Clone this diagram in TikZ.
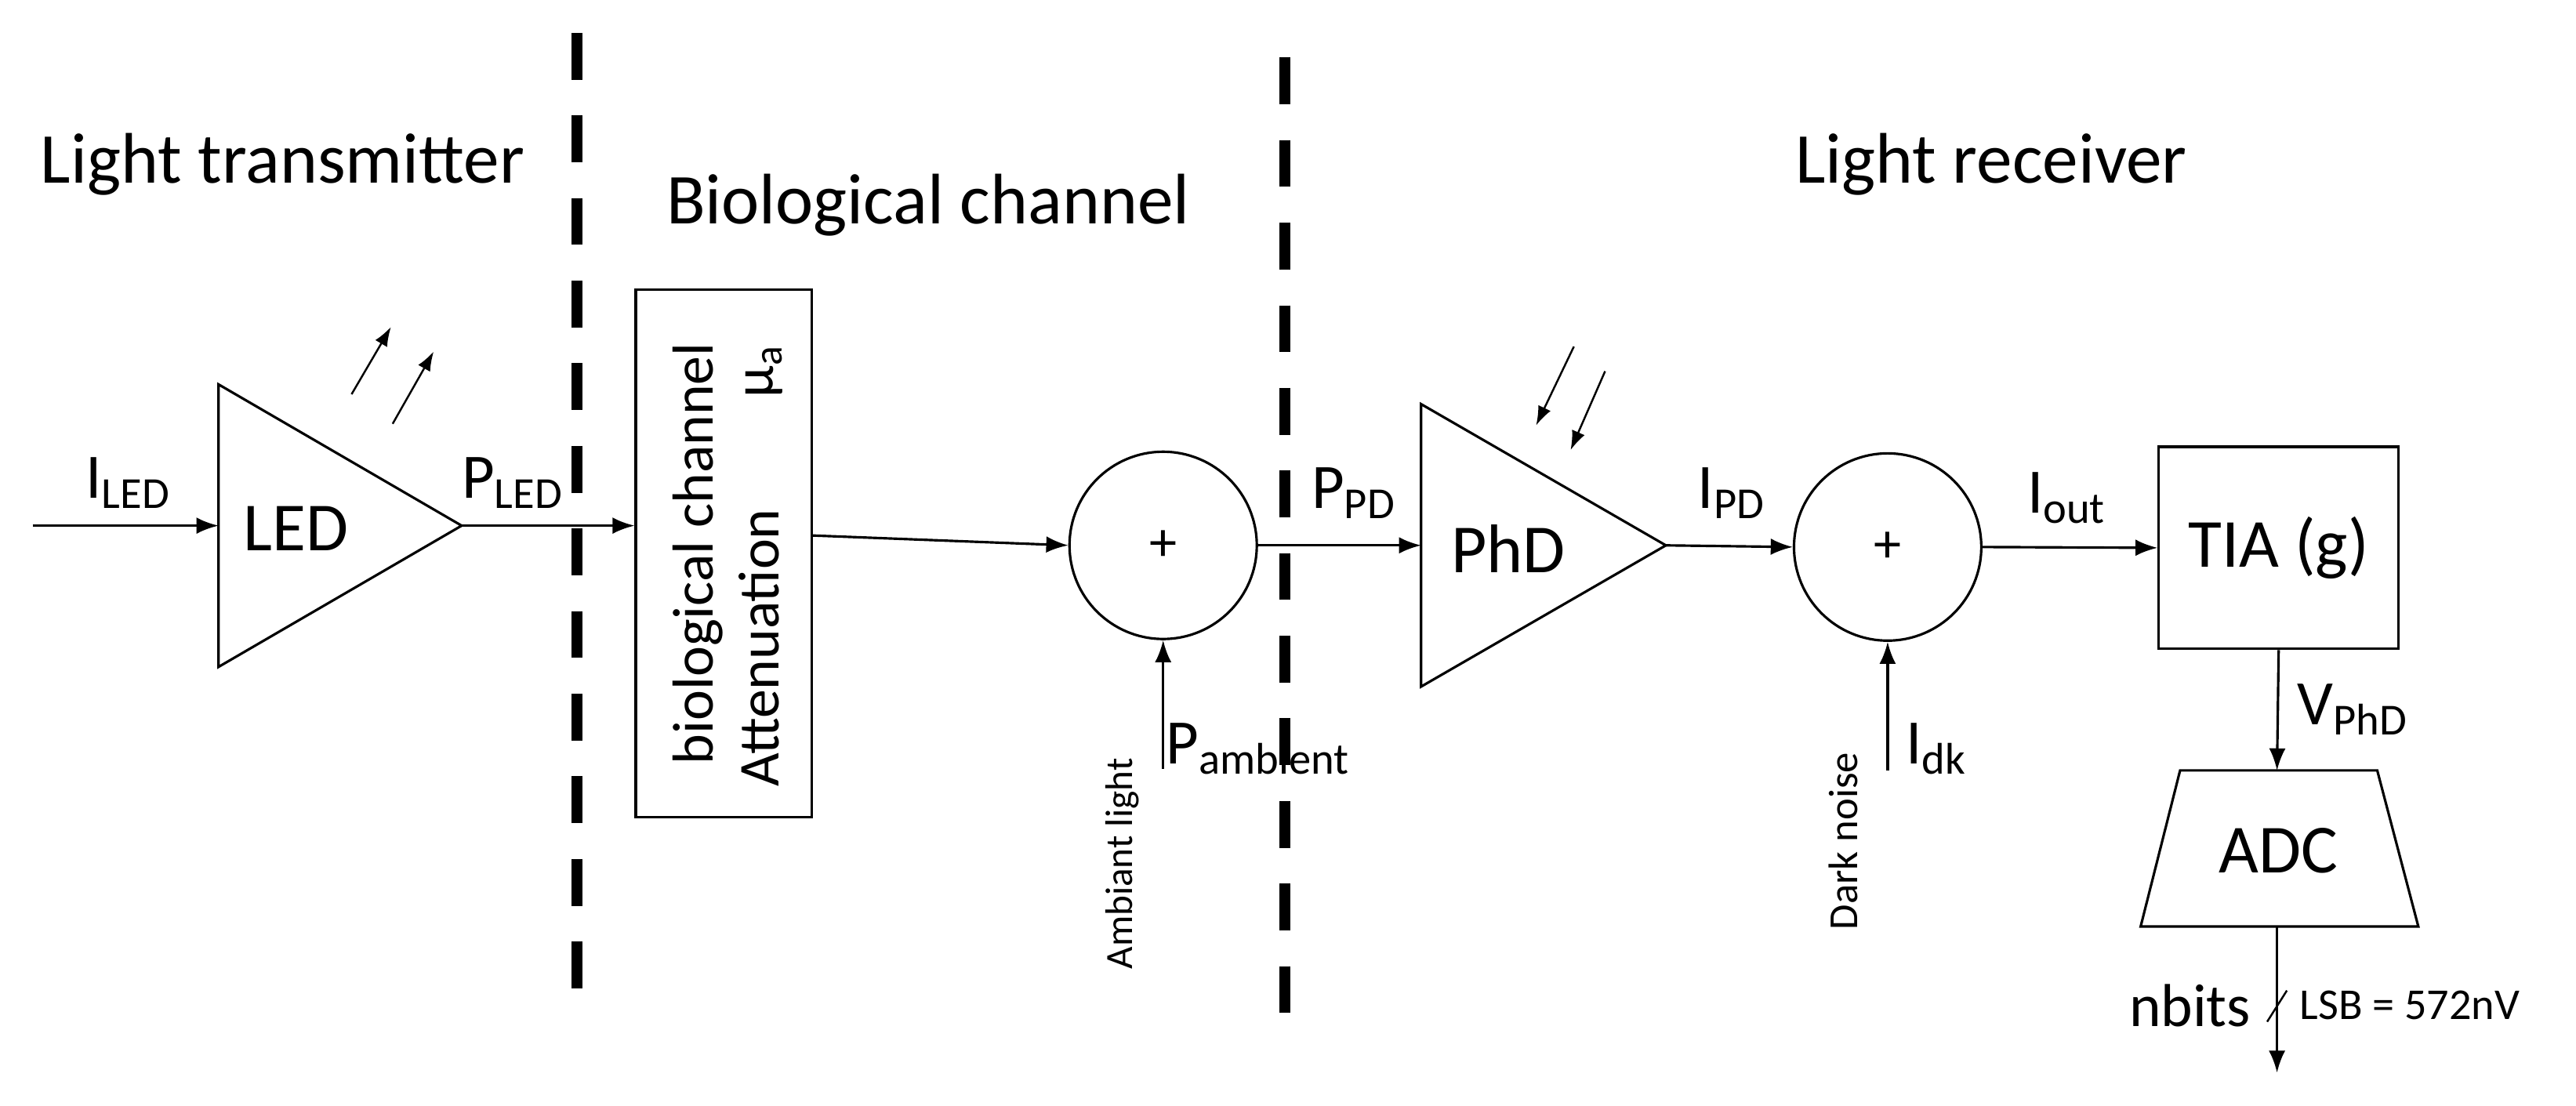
\documentclass[tikz,border=0pt]{standalone}
\usepackage{fontspec}
\setmainfont{Carlito}
\usetikzlibrary{arrows.meta}
\begin{document}
\begin{tikzpicture}[x=0.02096cm,y=-0.02096cm,
  ln/.style={line width=0.9pt},
  arr/.style={ln,-{Latex[length=8pt,width=6pt]}},
  sarr/.style={line width=0.7pt,-{Latex[length=7pt,width=5pt]}},
  sep/.style={line width=4pt,dash pattern=on 17pt off 13pt},
  ttl/.style={font=\fontsize{26}{30}\selectfont},
  lbl/.style={font=\fontsize{23}{27}\selectfont,inner sep=1pt},
  small/.style={font=\fontsize{14}{16}\selectfont,inner sep=1pt},
  sum/.style={draw,ln,circle,minimum size=2.39cm,inner sep=0pt,font=\fontsize{20}{24}\selectfont},
  box/.style={draw,ln,rectangle,inner sep=0pt}]
\useasboundingbox (0,0) rectangle (1568,673);
% titles
\node[ttl] (t1) at (172,100) {Light transmitter};
\node[ttl] (t2) at (565,125) {Biological channel};
\node[ttl] (t3) at (1212,100) {Light receiver};
% separators
\draw[sep] (351,20) -- (351,612);
\draw[sep] (782,35) -- (782,627);
% LED
\coordinate (in) at (20,320);
\coordinate (ledL) at (133,320);
\coordinate (ledT) at (281,320);
\draw[ln] (133,234) -- (281,320) -- (133,406) -- cycle;
\node[lbl,font=\fontsize{25}{28}\selectfont] (led) at (180,322) {LED};
\draw[arr] (in) -- (ledL);
\node[lbl] (iled) at (78,294) {I\textsubscript{LED}};
\draw[sarr] (214,240) -- (238,199);
\draw[sarr] (239,258) -- (264,214);
% bio box
\node[box,minimum width=2.243cm,minimum height=6.73cm] (bio) at (440.5,337) {};
\draw[arr] (ledT) -- (bio.west|-ledT);
\node[lbl] (pled) at (312,294) {P\textsubscript{LED}};
\node[lbl,font=\fontsize{21}{24}\selectfont,rotate=90] (b1) at (425,337) {biological channel};
\node[lbl,font=\fontsize{21}{24}\selectfont,rotate=90,anchor=west] (b2) at (462,481) {Attenuation};
\node[lbl,font=\fontsize{21}{24}\selectfont,rotate=90] (mu) at (465,226) {μ\textsubscript{a}};
% sum 1
\node[sum] (s1) at (708,332) {+};
\draw[arr] (bio.east|-0,326) -- (s1.west);
\coordinate (amb) at (708,468);
\draw[arr] (amb) -- (s1.south);
\node[small,rotate=90,anchor=west] (ambl) at (683,592) {Ambiant light};
\node[lbl,anchor=west] (pamb) at (708,456) {P\textsubscript{ambient}};
% PhD
\coordinate (phdL) at (865,332);
\coordinate (phdT) at (1014,332);
\draw[ln] (865,246) -- (1014,332) -- (865,418) -- cycle;
\node[lbl,font=\fontsize{25}{28}\selectfont] (phd) at (918,334) {PhD};
\draw[arr] (s1.east) -- (phdL);
\node[lbl] (ppd) at (824,300) {P\textsubscript{PD}};
\draw[sarr] (958,211) -- (935,259);
\draw[sarr] (977,226) -- (956,274);
% sum 2
\node[sum] (s2) at (1149,333) {+};
\draw[arr] (phdT) -- (s2.west);
\node[lbl] (ipd) at (1054,300) {I\textsubscript{PD}};
\coordinate (dk) at (1149,469);
\draw[arr] (dk) -- (s2.south);
\node[small,font=\fontsize{15}{17}\selectfont,rotate=90,anchor=west] (dkl) at (1122,568) {Dark noise};
\node[lbl,anchor=west] (idk) at (1158,456) {I\textsubscript{dk}};
% TIA
\node[box,minimum width=3.06cm,minimum height=2.58cm,font=\fontsize{25}{28}\selectfont] (tia) at (1387,333.5) {TIA (g)};
\draw[arr] (s2.east) -- (tia.west);
\node[lbl] (iout) at (1258,303) {I\textsubscript{out}};
% ADC
\coordinate (adcT) at (1386,469);
\coordinate (adcB) at (1386,564);
\draw[ln] (1327,469) -- (1447,469) -- (1472,564) -- (1303,564) -- cycle;
\node[lbl,font=\fontsize{25}{28}\selectfont] (adc) at (1387,518) {ADC};
\draw[arr] (tia.south) -- (adcT);
\node[lbl] (vphd) at (1432,432) {V\textsubscript{PhD}};
\coordinate (out) at (1386,653);
\draw[arr] (adcB) -- (out);
\coordinate (sl1) at (1380,622);
\coordinate (sl2) at (1392,603);
\draw[line width=0.7pt] (sl1) -- (sl2);
\node[lbl,font=\fontsize{22}{26}\selectfont,anchor=east] (nb) at (1372,612) {nbits};
\node[small,font=\fontsize{16}{18}\selectfont,anchor=west] (lsb) at (1398,612) {LSB = 572nV};
\end{tikzpicture}
\end{document}
